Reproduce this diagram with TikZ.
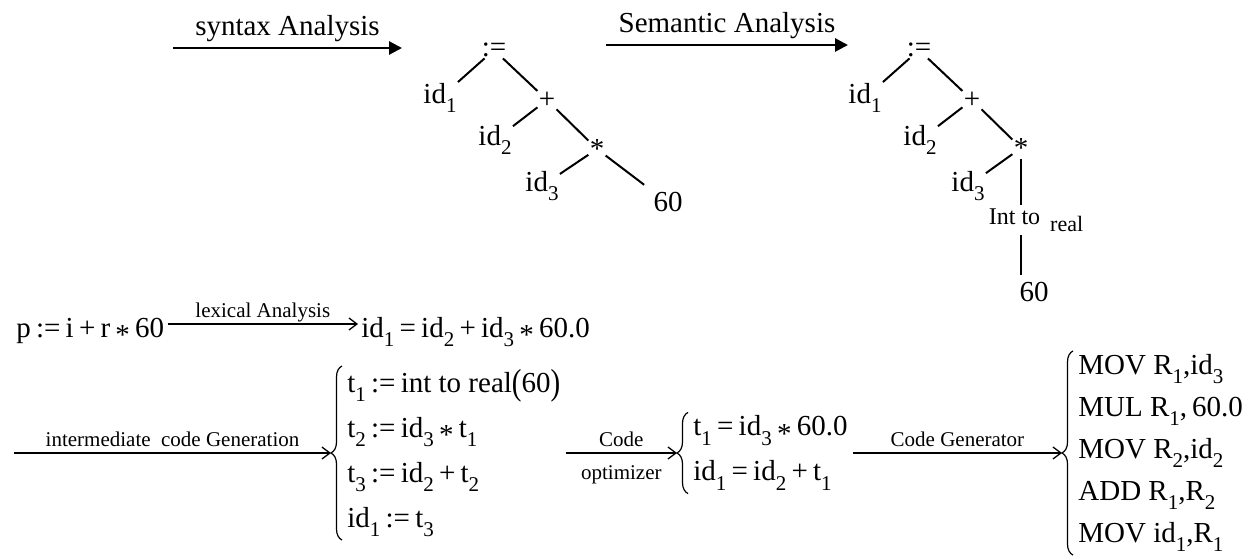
\documentclass[tikz,border=0pt]{standalone}
\usepackage{fontspec}
\setmainfont{Liberation Serif}
\usetikzlibrary{arrows.meta,decorations.pathreplacing}

% subscripts and spaced operators as in the typeset formulas
\newcommand{\low}[1]{\raisebox{-0.32em}{\fontsize{10.5}{10.5}\selectfont #1}}
\newcommand{\opr}[1]{\hspace{0.18em}#1\hspace{0.18em}}
\newcommand{\mulop}{\opr{\raisebox{-0.25em}{*}}}
\newcommand{\tallp}[1]{\raisebox{-0.08em}{\scalebox{1}[1.25]{#1}}}

\begin{document}
\begin{tikzpicture}[
    x=0.5pt, y=-0.5pt,
    every node/.style={font=\fontsize{14.5}{17}\selectfont, inner sep=1.5pt},
    tn/.style={inner sep=0.5pt},
    lbl/.style={font=\fontsize{10.5}{12}\selectfont, inner sep=3pt},
    grp/.style={anchor=west, align=left, font=\fontsize{14.5}{22.5}\selectfont},
    treeline/.style={line width=1pt},
    bigarrow/.style={-{Triangle[length=6.5pt, width=6.5pt]}, line width=1.4pt},
    thinarrow/.style={-{Straight Barb[length=4pt, width=6pt]}, line width=0.65pt},
    brc/.style={decorate, decoration={brace, amplitude=5.5pt}, line width=0.6pt}
]
\useasboundingbox (0,0) rectangle (1248,556);

% syntax tree
\coordinate (sa0) at (173,48);
\coordinate (sa1) at (402,48);
\draw [bigarrow] (sa0) -- (sa1) node [midway, above, inner sep=2.5pt] (synlbl) {syntax Analysis};

\node [tn] (r1) at (494,50) {:=};
\node [tn] (a1) at (440,98) {id\low{1}};
\node [tn] (p1) at (547,100) {+};
\node [tn] (b1) at (495,140) {id\low{2}};
\node [tn] (m1) at (597,149) {*};
\node [tn] (c1) at (542,186) {id\low{3}};
\node [tn] (n1) at (668,202) {60};

\draw [treeline] (r1) -- (a1);
\draw [treeline] (r1) -- (p1);
\draw [treeline] (p1) -- (b1);
\draw [treeline] (p1) -- (m1);
\draw [treeline] (m1) -- (c1);
\draw [treeline, shorten >=5pt] (m1) -- (n1.north west);

% annotated tree
\coordinate (se0) at (606,45);
\coordinate (se1) at (848,45);
\draw [bigarrow] (se0) -- (se1) node [midway, above, inner sep=2.5pt] (semlbl) {Semantic Analysis};

\node [tn] (r2) at (919,50) {:=};
\node [tn] (a2) at (865,98) {id\low{1}};
\node [tn] (p2) at (972,100) {+};
\node [tn] (b2) at (920,140) {id\low{2}};
\node [tn] (m2) at (1021,148) {*};
\node [tn] (c2) at (968,186) {id\low{3}};
\node (itr) at (1036,220) {\fontsize{12}{12}\selectfont Int to\hspace{5pt}\raisebox{-0.3em}{\fontsize{11}{11}\selectfont real}};
\node [tn] (n2) at (1034,292) {60};

\draw [treeline] (r2) -- (a2);
\draw [treeline] (r2) -- (p2);
\draw [treeline] (p2) -- (b2);
\draw [treeline] (p2) -- (m2);
\draw [treeline] (m2) -- (c2);
\draw [treeline] (m2) -- (m2 |- itr.north);
\draw [treeline, shorten >=3pt] (m2 |- itr.south) -- (m2 |- n2.north);

% lexical analysis
\node [anchor=base west] (src) at (13,337) {p\opr{:=}i\opr{+}r\mulop 60};
\node [anchor=base west] (tok) at (358,337) {id\low{1}\opr{=}id\low{2}\opr{+}id\low{3}\mulop 60.0};
\draw [thinarrow] ([yshift=6.5pt]src.base east) -- ([yshift=6.5pt]tok.base west)
    node [midway, above, lbl, inner sep=0.5pt] (lexlbl) {lexical Analysis};

% intermediate code, optimised code, target code
\coordinate (ic0) at (14,453);
\node [grp] (ir) at (344,453) {t\low{1}\opr{:=}int to real\tallp{(}60\tallp{)}\\
    t\low{2}\opr{:=}id\low{3}\mulop t\low{1}\\
    t\low{3}\opr{:=}id\low{2}\opr{+}t\low{2}\\
    id\low{1}\opr{:=}t\low{3}};
\node [grp] (opt) at (690,453) {t\low{1}\opr{=}id\low{3}\mulop 60.0\\
    id\low{1}\opr{=}id\low{2}\opr{+}t\low{1}};
\node [grp, font=\fontsize{14.5}{21}\selectfont] (asm) at (1075,453) {MOV R\low{1},id\low{3}\\
    MUL R\low{1},\,60.0\\
    MOV R\low{2},id\low{2}\\
    ADD R\low{1},R\low{2}\\
    MOV id\low{1},R\low{1}};

\draw [brc] ([xshift=-1pt]ir.south west) -- ([xshift=-1pt]ir.north west);
\draw [brc] ([xshift=-1pt]opt.south west) -- ([xshift=-1pt]opt.north west);
\draw [brc] ([xshift=-1pt]asm.south west) -- ([xshift=-1pt]asm.north west);

\draw [thinarrow] (ic0) -- ([xshift=-6.5pt]ir.west)
    node [midway, above, lbl] (iclbl) {intermediate~ code Generation};
\draw [thinarrow] ([xshift=1pt]ir.east) -- ([xshift=-6.5pt]opt.west)
    node [midway, above, lbl] (optlbl) {Code}
    node [midway, below, lbl, inner sep=6pt] (optlbl2) {optimizer};
\draw [thinarrow] ([xshift=1pt]opt.east) -- ([xshift=-6.5pt]asm.west)
    node [midway, above, lbl] (cglbl) {Code Generator};
\end{tikzpicture}
\end{document}
